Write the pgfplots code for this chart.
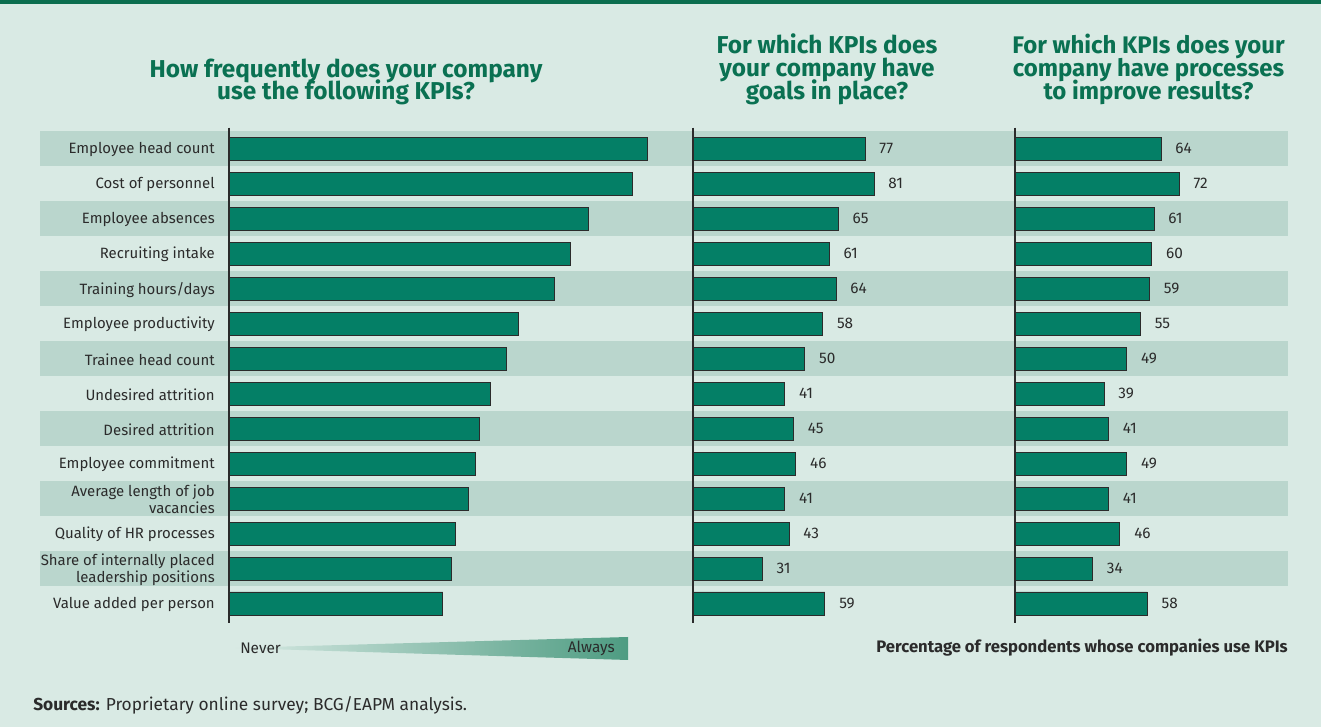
\documentclass[border=0pt]{standalone}
\usepackage{pgfplots}
\pgfplotsset{compat=1.18}
\usepackage{fontspec}
\setmainfont{Fira Sans}
\definecolor{bg}{HTML}{D9EAE4}
\definecolor{stripe}{HTML}{BAD6CD}
\definecolor{barc}{HTML}{047F66}
\definecolor{ttl}{HTML}{0A7152}
\definecolor{topline}{HTML}{0B6E4F}
\definecolor{txt}{HTML}{2B2B2B}
\definecolor{gradend}{HTML}{4E9C82}
\newcommand\tightls{\lineskiplimit=-30pt\relax}
\pgfplotsset{kpi/.style={xbar, scale only axis, height=371.4pt,
  ymin=-0.6, ymax=13.55, y dir=reverse, xmin=0, xmax=100,
  axis x line=none, axis y line=left,
  y axis line style={-, draw=txt, line width=0.8pt},
  ytick={0,...,13}, ytick style={draw=none}, major tick length=0pt,
  bar width=17.25pt, bar shift=0pt, anchor=south west,
  /pgf/number format/assume math mode=true}}
\begin{document}
\begin{tikzpicture}[x=0.75pt,y=0.75pt]
\fill[bg] (0,0) rectangle (1321,727);
\fill[topline] (0,723) rectangle (1321,727);
\foreach \k in {0,2,...,12}{\fill[stripe] (40,{727-131-35*\k}) rectangle (1288,{727-166-35*\k});}
\node[font=\bfseries\fontsize{18.3}{16.5}\selectfont\tightls, text=ttl, align=center] at (346,645) {How frequently does your company\\use the following KPIs?};
\node[font=\bfseries\fontsize{18.3}{17.25}\selectfont\tightls, text=ttl, align=center] at (827,658) {For which KPIs does\\your company have\\goals in place?};
\node[font=\bfseries\fontsize{18}{17.25}\selectfont\tightls, text=ttl, align=center] at (1148.5,658) {For which KPIs does your\\company have processes\\to improve results?};

\begin{axis}[kpi, at={(171.75pt,78.19pt)}, width=330pt,
  yticklabels={Employee head count, Cost of personnel, Employee absences, Recruiting intake, Training hours/days, Employee productivity, Trainee head count, Undesired attrition, Desired attrition, Employee commitment, {Average length of job\\vacancies}, Quality of HR processes, {Share of internally placed\\leadership positions}, Value added per person},
  yticklabel style={font=\fontsize{11.2}{12.6}\selectfont\tightls, text=txt, align=right, inner sep=0pt, xshift=-10.5pt, yshift=-0.8pt}]
\addplot[fill=barc, draw=txt, line width=0.6pt] coordinates {(95.2,0) (91.6,1) (81.6,2) (77.5,3) (73.9,4) (65.7,5) (63.0,6) (59.3,7) (57.0,8) (56.1,9) (54.5,10) (51.4,11) (50.5,12) (48.6,13)};
\end{axis}

\begin{axis}[kpi, at={(519.75pt,78.19pt)}, width=167.6pt, yticklabels={},
  nodes near coords, point meta=x,
  nodes near coords style={anchor=west, inner sep=0pt, xshift=10.5pt, font=\fontsize{11.5}{11.5}\selectfont, text=txt}]
\addplot[fill=barc, draw=txt, line width=0.6pt] coordinates {(77,0) (81,1) (65,2) (61,3) (64,4) (58,5) (50,6) (41,7) (45,8) (46,9) (41,10) (43,11) (31,12) (59,13)};
\end{axis}

\begin{axis}[kpi, at={(761.25pt,78.19pt)}, width=171pt, yticklabels={},
  nodes near coords, point meta=x,
  nodes near coords style={anchor=west, inner sep=0pt, xshift=10.5pt, font=\fontsize{11.5}{11.5}\selectfont, text=txt}]
\addplot[fill=barc, draw=txt, line width=0.6pt] coordinates {(64,0) (72,1) (61,2) (60,3) (59,4) (55,5) (49,6) (39,7) (41,8) (49,9) (41,10) (46,11) (34,12) (58,13)};
\end{axis}

\shade[left color=bg, right color=gradend] (233,79) -- (628,90) -- (628,67) -- cycle;
\node[anchor=west, inner sep=0pt, font=\fontsize{11.5}{11.5}\selectfont, text=txt] at (240,79) {Never};
\node[anchor=east, inner sep=0pt, font=\fontsize{11.5}{11.5}\selectfont, text=txt] at (615,79) {Always};
\node[anchor=east, inner sep=0pt, font=\bfseries\fontsize{12.5}{12.5}\selectfont, text=txt] at (1288,79) {Percentage of respondents whose companies use KPIs};
\node[anchor=west, inner sep=0pt, font=\fontsize{13}{13}\selectfont, text=txt] at (33,22) {\textbf{Sources:} Proprietary online survey; BCG/EAPM analysis.};
\pgfresetboundingbox
\path (0,0) rectangle (1321,727);
\end{tikzpicture}
\end{document}
